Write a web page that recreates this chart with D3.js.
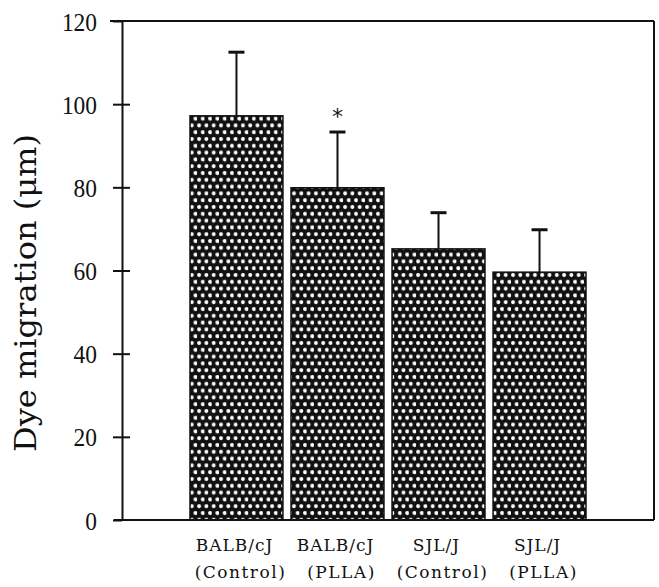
<!DOCTYPE html>
<html>
<head>
<meta charset="utf-8">
<script src="https://cdn.jsdelivr.net/npm/d3@7"></script>
<style>
  html, body { margin: 0; padding: 0; background: #fff; }
  svg { display: block; }
</style>
</head>
<body>
<svg id="chart" width="659" height="587"></svg>
<script>
// Dye migration by mouse strain and treatment
const strains    = ["BALB/cJ", "BALB/cJ", "SJL/J", "SJL/J"];
const treatments = ["(Control)", "(PLLA)", "(Control)", "(PLLA)"];
const means      = [97.2, 79.9, 65.2, 59.6];
const errors     = [15.3, 13.4, 8.7, 10.2];
const marks      = ["", "*", "", ""];
const yTicks     = [0, 20, 40, 60, 80, 100, 120];

const svg = d3.select("#chart");
const ink = "#111";

const frame = { left: 122, right: 654, top: 21, bottom: 520 };

const y = d3.scaleLinear().domain([0, 120]).range([frame.bottom, frame.top]);
const x = d3.scaleBand()
  .domain(d3.range(means.length))
  .range([190, 586])
  .paddingInner(0.08)
  .paddingOuter(0);

// Dotted fill: black ground with staggered white dots
const defs = svg.append("defs");
const pat = defs.append("pattern")
  .attr("id", "dots")
  .attr("patternUnits", "userSpaceOnUse")
  .attr("width", 7.3)
  .attr("height", 13.6);
pat.append("rect").attr("width", 7.3).attr("height", 13.6).attr("fill", ink);
pat.append("circle").attr("cx", 2).attr("cy", 3).attr("r", 2).attr("fill", "#fff");
pat.append("circle").attr("cx", 5.65).attr("cy", 9.8).attr("r", 2).attr("fill", "#fff");

// Bars
svg.append("g").selectAll("rect")
  .data(means)
  .join("rect")
  .attr("x", (d, i) => x(i))
  .attr("y", d => y(d))
  .attr("width", x.bandwidth())
  .attr("height", d => y(0) - y(d))
  .attr("fill", "url(#dots)")
  .attr("stroke", ink)
  .attr("stroke-width", 1.5);

// Error bars (upper half only)
const eb = svg.append("g").attr("stroke", ink);
means.forEach((m, i) => {
  const cx = x(i) + x.bandwidth() / 2;
  eb.append("line")
    .attr("x1", cx).attr("x2", cx)
    .attr("y1", y(m)).attr("y2", y(m + errors[i]))
    .attr("stroke-width", 2);
  eb.append("line")
    .attr("x1", cx - 8).attr("x2", cx + 8)
    .attr("y1", y(m + errors[i])).attr("y2", y(m + errors[i]))
    .attr("stroke-width", 3);
});

// Significance marks
svg.append("g").selectAll("text")
  .data(marks)
  .join("text")
  .attr("x", (d, i) => x(i) + x.bandwidth() / 2)
  .attr("y", (d, i) => y(means[i] + errors[i]) - 8)
  .attr("text-anchor", "middle")
  .attr("font-family", "DejaVu Sans, sans-serif")
  .attr("font-size", 22)
  .attr("fill", ink)
  .text(d => d);

// Frame: top and right borders, bottom baseline
const fr = svg.append("g").attr("stroke", ink).attr("stroke-width", 2).attr("fill", "none");
fr.append("line").attr("x1", 110).attr("x2", frame.right).attr("y1", frame.top).attr("y2", frame.top);
fr.append("line").attr("x1", frame.right).attr("x2", frame.right).attr("y1", frame.top).attr("y2", frame.bottom);
fr.append("line").attr("x1", 114).attr("x2", frame.right).attr("y1", frame.bottom).attr("y2", frame.bottom);

// Left axis with ticks crossing the spine
const yAxis = d3.axisLeft(y).tickValues(yTicks).tickSize(0).tickPadding(0).tickFormat(d3.format("d"));
const ag = svg.append("g").attr("transform", `translate(${frame.left},0)`).call(yAxis);
ag.select(".domain").attr("stroke", ink).attr("stroke-width", 2);
ag.selectAll(".tick line")
  .attr("x1", -9).attr("x2", d => (d === 0 || d === 120) ? 0 : 8)
  .attr("stroke", ink).attr("stroke-width", 2);
ag.selectAll(".tick text")
  .attr("x", -25)
  .attr("dy", "0.35em")
  .attr("font-family", "Liberation Serif, serif")
  .attr("font-size", 26)
  .attr("fill", ink)
  .attr("textLength", d => String(d).length * 11.7)
  .attr("lengthAdjust", "spacingAndGlyphs");

// Category labels, two lines each
const lab = svg.append("g")
  .attr("font-family", "DejaVu Serif, serif")
  .attr("font-size", 17)
  .attr("fill", ink)
  .attr("text-anchor", "middle");
lab.selectAll("text.strain")
  .data(strains)
  .join("text")
  .attr("class", "strain")
  .attr("x", (d, i) => x(i) + x.bandwidth() / 2 - 2)
  .attr("y", 551)
  .attr("letter-spacing", 1)
  .text(d => d);
lab.selectAll("text.treat")
  .data(treatments)
  .join("text")
  .attr("class", "treat")
  .attr("x", (d, i) => x(i) + x.bandwidth() / 2 + 4)
  .attr("y", 578)
  .attr("letter-spacing", 1.5)
  .text(d => d);

// Y axis title
svg.append("text")
  .attr("transform", "translate(36,293) rotate(-90)")
  .attr("text-anchor", "middle")
  .attr("font-family", "DejaVu Serif, serif")
  .attr("font-size", 29)
  .attr("fill", ink)
  .attr("textLength", 318)
  .attr("lengthAdjust", "spacingAndGlyphs")
  .text("Dye migration (μm)");
</script>
</body>
</html>
